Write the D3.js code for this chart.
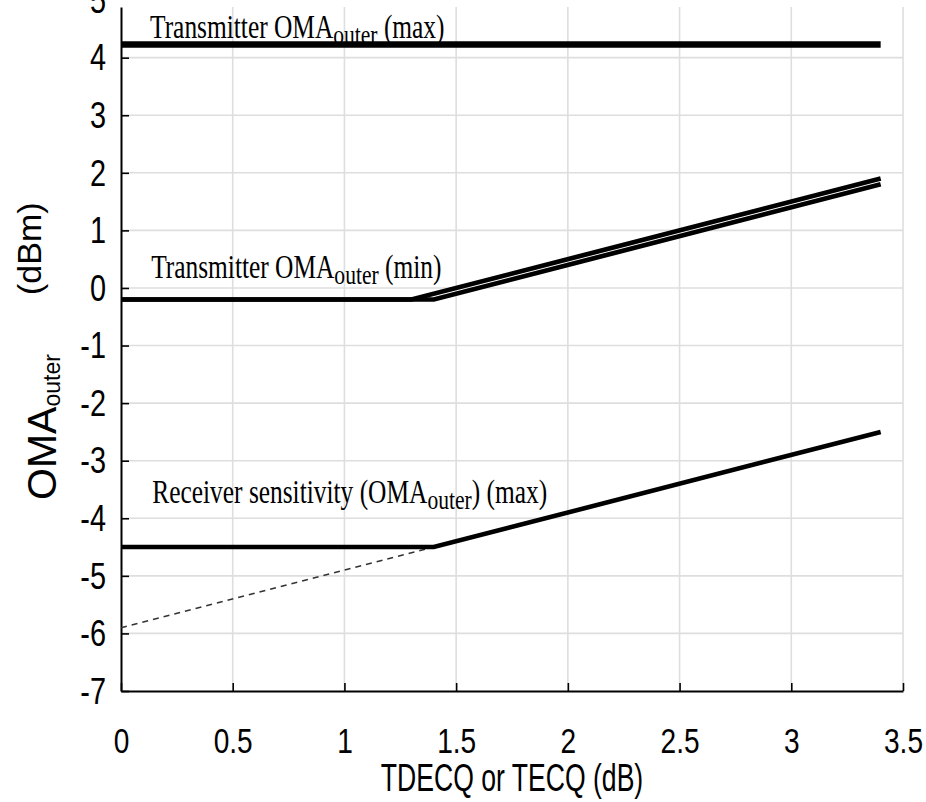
<!DOCTYPE html>
<html>
<head>
<meta charset="utf-8">
<script src="https://cdn.jsdelivr.net/npm/d3@7"></script>
<style>
  html, body { margin: 0; padding: 0; background: #fff; }
  svg { display: block; }
</style>
</head>
<body>
<svg id="chart" width="926" height="802"></svg>
<script>
// ---- data ----
const xTicks = [0, 0.5, 1, 1.5, 2, 2.5, 3, 3.5];
const yTicks = [-7, -6, -5, -4, -3, -2, -1, 0, 1, 2, 3, 4, 5];
const xDomain = [0, 3.5];
const yDomain = [-7, 4.88];

const txMaxX = [0, 3.4];
const txMaxY = [4.23, 4.23];
const txMinAX = [0, 1.3, 3.4];
const txMinAY = [-0.2, -0.2, 1.9];
const txMinBX = [0, 1.4, 3.4];
const txMinBY = [-0.2, -0.2, 1.8];
const rxX = [0, 1.4, 3.4];
const rxY = [-4.5, -4.5, -2.5];
const dashX = [0, 1.4];
const dashY = [-5.9, -4.5];

const xTitle = "TDECQ or TECQ (dB)";
const labels = [
  { pre: "Transmitter OMA", sub: "outer", post: " (max)", x: 0.13, y: 4.23 },
  { pre: "Transmitter OMA", sub: "outer", post: " (min)", x: 0.135, y: -0.2 },
  { pre: "Receiver sensitivity (OMA", sub: "outer", post: ") (max)", x: 0.14, y: -4.5 }
];

// ---- layout ----
const svg = d3.select("#chart");
const mLeft = 121, mRight = 903, mTop = 7, mBottom = 691;
const x = d3.scaleLinear().domain(xDomain).range([mLeft, mRight]);
const y = d3.scaleLinear().domain(yDomain).range([mBottom, mTop]);
const fmt = d => String(d);

// grid
const grid = svg.append("g");
grid.selectAll("line.vx").data(xTicks.filter(d => d > 0)).join("line")
  .attr("x1", d => x(d)).attr("x2", d => x(d))
  .attr("y1", mTop).attr("y2", mBottom)
  .attr("stroke", "#dedede").attr("stroke-width", 1.6);
grid.selectAll("line.hy").data(yTicks.filter(d => d > -7 && d <= 4)).join("line")
  .attr("x1", mLeft).attr("x2", mRight)
  .attr("y1", d => y(d)).attr("y2", d => y(d))
  .attr("stroke", "#dedede").attr("stroke-width", 1.6);

// axes
const tickFont = "'Liberation Sans', Arial, sans-serif";
const gx = svg.append("g").attr("transform", `translate(0,${mBottom})`)
  .call(d3.axisBottom(x).tickValues(xTicks).tickSize(-8).tickSizeOuter(0).tickFormat(fmt));
gx.select(".domain").attr("stroke", "#000").attr("stroke-width", 2);
gx.selectAll(".tick line").attr("stroke", "#000").attr("stroke-width", 1.6);
gx.selectAll(".tick text")
  .attr("y", 0).attr("dy", 0)
  .attr("transform", "translate(0,62) scale(0.78,1)")
  .attr("font-family", tickFont).attr("font-size", 36).attr("fill", "#000");

const gy = svg.append("g").attr("transform", `translate(${mLeft},0)`)
  .call(d3.axisLeft(y).tickValues(yTicks).tickSize(-8).tickSizeOuter(0).tickFormat(fmt));
gy.select(".domain").attr("stroke", "#000").attr("stroke-width", 2);
gy.selectAll(".tick line").attr("stroke", "#000").attr("stroke-width", 1.6)
  .attr("display", d => d > 4.88 ? "none" : null);
gy.selectAll(".tick text")
  .attr("x", 0).attr("dy", "0.33em")
  .attr("transform", "translate(-15,0) scale(0.78,1)")
  .attr("font-family", tickFont).attr("font-size", 37).attr("fill", "#000");

// lines
const line = d3.line().x(d => x(d[0])).y(d => y(d[1]));
const zip = (a, b) => a.map((v, i) => [v, b[i]]);

svg.append("path").datum(zip(dashX, dashY)).attr("d", line)
  .attr("fill", "none").attr("stroke", "#333").attr("stroke-width", 1.6)
  .attr("stroke-dasharray", "6,5");
svg.append("path").datum(zip(rxX, rxY)).attr("d", line)
  .attr("fill", "none").attr("stroke", "#000").attr("stroke-width", 4.6);
svg.append("path").datum(zip(txMinAX, txMinAY)).attr("d", line)
  .attr("fill", "none").attr("stroke", "#000").attr("stroke-width", 4.7);
svg.append("path").datum(zip(txMinBX, txMinBY)).attr("d", line)
  .attr("fill", "none").attr("stroke", "#000").attr("stroke-width", 4.7);
svg.append("path").datum(zip(txMaxX, txMaxY)).attr("d", line)
  .attr("fill", "none").attr("stroke", "#000").attr("stroke-width", 6.5);

// annotation labels
const serif = "'Liberation Serif', 'Times New Roman', serif";
const labelBaselineOffset = [-6.5, -21.5, -44.5];
labels.forEach((l, i) => {
  const t = svg.append("text")
    .attr("transform", `translate(${x(l.x)},${y(l.y) + labelBaselineOffset[i]}) scale(0.77,1)`)
    .attr("font-family", serif).attr("font-size", 33).attr("fill", "#000");
  t.append("tspan").text(l.pre);
  t.append("tspan").attr("font-size", 28).attr("dy", 6).text(l.sub);
  t.append("tspan").attr("dy", -6).text(l.post);
});

// axis titles
svg.append("text")
  .attr("transform", `translate(${(mLeft + mRight) / 2},791) scale(0.7,1)`)
  .attr("text-anchor", "middle")
  .attr("font-family", tickFont).attr("font-size", 38).attr("fill", "#000")
  .text(xTitle);

const yl = svg.append("text")
  .attr("transform", "translate(56,500) rotate(-90)")
  .attr("font-family", tickFont).attr("font-size", 41).attr("fill", "#000");
yl.append("tspan").text("OMA");
yl.append("tspan").attr("font-size", 23).attr("dy", 4).text("outer");

svg.append("text")
  .attr("transform", "translate(41,295) rotate(-90)")
  .attr("font-family", tickFont).attr("font-size", 34).attr("fill", "#000")
  .text("(dBm)");
</script>
</body>
</html>
